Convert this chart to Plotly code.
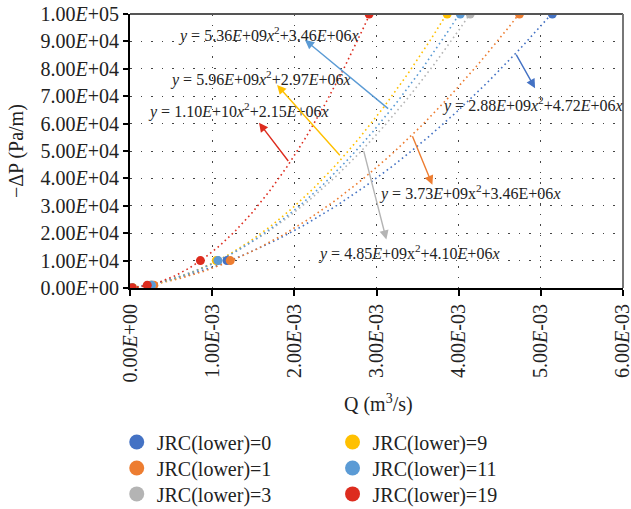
import numpy as np
import plotly.graph_objects as go

# ---- data ----
series_names = ["JRC(lower)=0", "JRC(lower)=1", "JRC(lower)=3",
                "JRC(lower)=9", "JRC(lower)=11", "JRC(lower)=19"]
series_colors = ["#4472C4", "#ED7D31", "#B4B4B4", "#FFC000", "#5B9BD5", "#DD2C1E"]
dp_levels = [100, 1000, 10000, 100000]
q_jrc0 = [0.025e-3, 0.27e-3, 1.18e-3, 5.14e-3]
q_jrc1 = [0.030e-3, 0.29e-3, 1.22e-3, 4.74e-3]
q_jrc3 = [0.025e-3, 0.26e-3, 1.07e-3, 4.14e-3]
q_jrc9 = [0.030e-3, 0.25e-3, 1.05e-3, 3.86e-3]
q_jrc11 = [0.025e-3, 0.26e-3, 1.07e-3, 4.02e-3]
q_jrc19 = [0.027e-3, 0.21e-3, 0.857e-3, 2.91e-3]
series_q = [q_jrc0, q_jrc1, q_jrc3, q_jrc9, q_jrc11, q_jrc19]

# trendline coefficients as printed on the chart (y = a x^2 + b x)
fit_a = [2.88e9, 3.73e9, 4.85e9, 5.96e9, 5.36e9, 1.10e10]
fit_b = [4.72e6, 3.46e6, 4.10e6, 2.97e6, 3.46e6, 2.15e6]
eq_texts = [
    "<i>y</i> = 2.88<i>E</i>+09<i>x</i><sup>2</sup>+4.72<i>E</i>+06<i>x</i>",
    "<i>y</i> = 3.73<i>E</i>+09x<sup>2</sup>+3.46E+06<i>x</i>",
    "<i>y</i> = 4.85<i>E</i>+09x<sup>2</sup>+4.10<i>E</i>+06<i>x</i>",
    "<i>y</i> = 5.96<i>E</i>+09<i>x</i><sup>2</sup>+2.97<i>E</i>+06<i>x</i>",
    "<i>y</i> = 5.36<i>E</i>+09<i>x</i><sup>2</sup>+3.46<i>E</i>+06<i>x</i>",
    "<i>y</i> = 1.10<i>E</i>+10<i>x</i><sup>2</sup>+2.15<i>E</i>+06<i>x</i>",
]
# label centres and arrow (head, tail) positions, in data units
eq_pos = [(4.90e-3, 66800), (4.13e-3, 34700), (3.40e-3, 12800),
          (1.59e-3, 76300), (1.68e-3, 92700), (1.32e-3, 64700)]
arrow_head = [(4.93e-3, 72900), (3.68e-3, 37700), (3.12e-3, 17700),
              (1.79e-3, 74100), (2.13e-3, 90500), (1.57e-3, 60300)]
arrow_tail = [(4.69e-3, 85700), (3.43e-3, 55900), (2.84e-3, 50500),
              (2.57e-3, 47900), (3.16e-3, 65000), (1.94e-3, 45800)]

x_tickvals = [0, 1e-3, 2e-3, 3e-3, 4e-3, 5e-3, 6e-3]
x_ticktext = ["0.00<i>E</i>+00", "1.00<i>E</i>-03", "2.00<i>E</i>-03", "3.00<i>E</i>-03",
              "4.00<i>E</i>-03", "5.00<i>E</i>-03", "6.00<i>E</i>-03"]
y_tickvals = [i * 10000 for i in range(11)]
y_ticktext = ["0.00<i>E</i>+00"] + ["%d.00<i>E</i>+04" % i for i in range(1, 10)] + ["1.00<i>E</i>+05"]

FONT = "Liberation Serif"
TXT = "#222"

fig = go.Figure()

# trendlines
for q, a, b, c in zip(series_q, fit_a, fit_b, series_colors):
    xs = np.linspace(min(q), max(q), 200)
    fig.add_trace(go.Scatter(x=xs, y=a * xs ** 2 + b * xs, mode="lines",
                             line=dict(color=c, width=1.6, dash="1.6px,3.2px"),
                             showlegend=False, hoverinfo="skip"))
# markers
for q, c in zip(series_q, series_colors):
    fig.add_trace(go.Scatter(x=q, y=dp_levels, mode="markers",
                             marker=dict(color=c, size=9), showlegend=False))

# legend entries, one small legend per entry (two columns of three)
leg_names = ["legend", "legend2", "legend3", "legend4", "legend5", "legend6"]
leg_x = [0.185, 0.185, 0.185, 0.527, 0.527, 0.527]
leg_y = [0.170, 0.119, 0.068, 0.170, 0.119, 0.068]
legends = {}
for i, (n, c) in enumerate(zip(series_names, series_colors)):
    fig.add_trace(go.Scatter(x=[0], y=[-1e6], mode="markers", name=n,
                             marker=dict(color=c, size=15), legend=leg_names[i],
                             hoverinfo="skip"))
    legends[leg_names[i]] = dict(x=leg_x[i], y=leg_y[i], xref="container", yref="container",
                                 xanchor="left", yanchor="top", bgcolor="rgba(0,0,0,0)",
                                 font=dict(family=FONT, size=20, color=TXT),
                                 itemsizing="trace")

for t, (x, y) in zip(eq_texts, eq_pos):
    fig.add_annotation(x=x, y=y, text=t, showarrow=False,
                       font=dict(family=FONT, size=16, color=TXT))
for (hx, hy), (tx, ty), c in zip(arrow_head, arrow_tail, series_colors):
    fig.add_annotation(x=hx, y=hy, ax=tx, ay=ty, axref="x", ayref="y", text="",
                       showarrow=True, arrowhead=2, arrowsize=1.3, arrowwidth=1.4,
                       arrowcolor=c, standoff=0, startstandoff=0)

# axis titles
fig.add_annotation(xref="paper", yref="paper", x=-0.231, y=0.5, text="−ΔP (Pa/m)",
                   xanchor="center", yanchor="middle",
                   textangle=-90, showarrow=False, font=dict(family=FONT, size=20, color=TXT))
fig.add_annotation(xref="paper", yref="paper", x=0.504, y=-0.42, text="Q (m<sup>3</sup>/s)",
                   xanchor="center", yanchor="middle",
                   showarrow=False, font=dict(family=FONT, size=20, color=TXT))

# top/right border
fig.add_shape(type="line", xref="paper", yref="paper", x0=0, x1=1, y0=1, y1=1,
              line=dict(color="#555", width=2))
fig.add_shape(type="line", xref="paper", yref="paper", x0=1, x1=1, y0=0, y1=1,
              line=dict(color="#777", width=2))

fig.update_layout(
    width=631, height=509,
    margin=dict(l=130, r=8, t=14, b=221, autoexpand=False),
    paper_bgcolor="white", plot_bgcolor="white",
    font=dict(family=FONT, size=19, color=TXT),
    xaxis=dict(range=[0, 0.0060001], tickvals=x_tickvals, ticktext=x_ticktext, tickangle=-90,
               showline=True, linecolor="black", linewidth=2, ticks="outside",
               ticklen=6, tickcolor="black", tickwidth=1.5, automargin=False,
               ticklabeloverflow="allow",
               showgrid=True, gridcolor="#444", gridwidth=1, griddash="1.5px,9px",
               zeroline=False, tickfont=dict(family=FONT, size=20, color=TXT)),
    yaxis=dict(range=[0, 1e5], tickvals=y_tickvals, ticktext=y_ticktext,
               showline=True, linecolor="black", linewidth=2, ticks="outside",
               ticklen=5, tickcolor="black", tickwidth=1.5, automargin=False,
               showgrid=True, gridcolor="#444", gridwidth=1, griddash="1.5px,9px",
               zeroline=False, tickfont=dict(family=FONT, size=20, color=TXT)),
    **legends,
)

fig.write_html("out.html")
